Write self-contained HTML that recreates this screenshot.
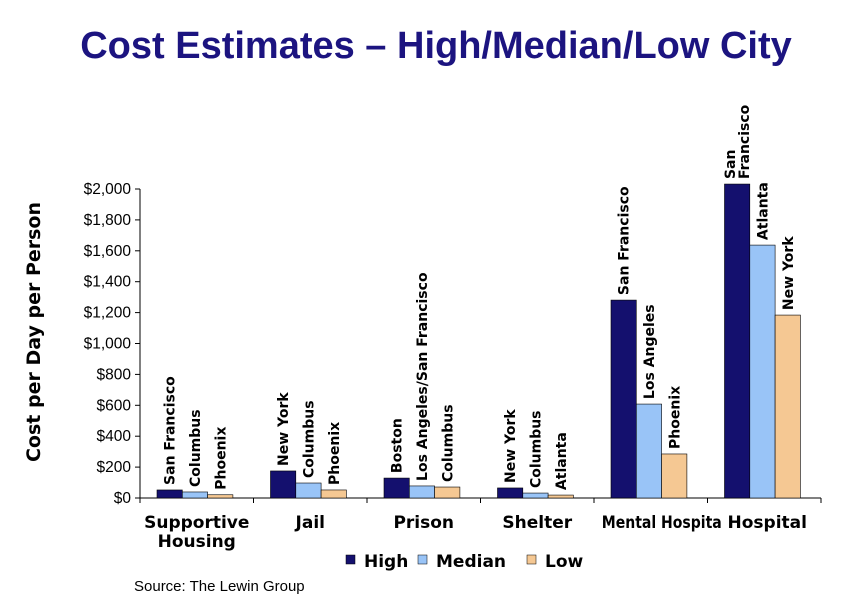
<!DOCTYPE html>
<html><head><meta charset="utf-8"><style>
body{margin:0;background:#fff;}
svg{display:block;font-family:"Liberation Sans",sans-serif;}
</style></head><body>
<svg width="866" height="606">
<text x="436" y="58" text-anchor="middle" font-size="38" font-weight="bold" fill="#1c1480">Cost Estimates – High/Median/Low City</text>
<text transform="translate(40,332) rotate(-90)" text-anchor="middle" font-size="19" font-weight="bold" font-family="'DejaVu Sans',sans-serif">Cost per Day per Person</text>
<g id="plot"></g>
<g>
<rect x="346" y="555" width="9" height="9" fill="#14106e" stroke="#000" stroke-width="0.5"/>
<text x="364" y="567" font-size="17" font-weight="bold" font-family="'DejaVu Sans',sans-serif">High</text>
<text x="436" y="567" font-size="17" font-weight="bold" font-family="'DejaVu Sans',sans-serif">Median</text>
<rect x="418" y="555" width="9" height="9" fill="#99c4f7" stroke="#000" stroke-width="0.5"/>
<rect x="527" y="555" width="9" height="9" fill="#f5c893" stroke="#000" stroke-width="0.5"/>
<text x="545" y="567" font-size="17" font-weight="bold" font-family="'DejaVu Sans',sans-serif">Low</text>
</g>
<text x="134" y="591" font-size="15">Source: The Lewin Group</text>
</svg>
<script>
const categories=["Supportive Housing","Jail","Prison","Shelter","Mental Hospital","Hospital"];
const highValues=[52,175,129,65,1281,2032];
const medianValues=[39,97,78,32,608,1637];
const lowValues=[21,52,71,19,285,1184];
const highCities=["San Francisco","New York","Boston","New York","San Francisco","San|Francisco"];
const medianCities=["Columbus","Columbus","Los Angeles/San Francisco","Columbus","Los Angeles","Atlanta"];
const lowCities=["Phoenix","Phoenix","Columbus","Atlanta","Phoenix","New York"];
const yTicks=[0,200,400,600,800,1000,1200,1400,1600,1800,2000];
const catLabels=[["Supportive","Housing"],["Jail"],["Prison"],["Shelter"],["Mental Hospita"],["Hospital"]];
const catShift=[0,0,0,0,11,3];

const NS="http://www.w3.org/2000/svg";
const g=document.getElementById('plot');
const x0=140,x1=821,y0=498,yTop=189;
const gw=(x1-x0)/categories.length;
function yScale(v){return y0-(v/2000)*(y0-yTop);}
function xBand(i){return x0+i*gw;}
function mk(tag,attrs){const e=document.createElementNS(NS,tag);for(const k in attrs)e.setAttribute(k,attrs[k]);g.appendChild(e);return e;}
let ax=mk('line',{x1:x0,y1:yTop,x2:x0,y2:y0,stroke:'#000','stroke-width':1});


let bx=mk('line',{x1:x0,y1:y0,x2:x1,y2:y0,stroke:'#000','stroke-width':1});


yTicks.forEach(t=>{
  const y=yScale(t);
  mk('line',{x1:x0-5,y1:y,x2:x0,y2:y,stroke:'#000'});
  const tx=mk('text',{x:x0-9,y:y+5,'text-anchor':'end','font-size':15.5});
  tx.textContent='$'+t.toLocaleString('en-US');
  
  
});
for(let i=0;i<=categories.length;i++){mk('line',{x1:xBand(i),y1:y0,x2:xBand(i),y2:y0+5,stroke:'#000'});}
const series=[[highValues,highCities,'#14106e','high'],[medianValues,medianCities,'#99c4f7','median'],[lowValues,lowCities,'#f5c893','low']];
const bw=25.3,off=17;
categories.forEach((c,i)=>{
  series.forEach((s,j)=>{
    const v=s[0][i];const bxp=xBand(i)+off+j*bw;const y=yScale(v);
    const r=mk('rect',{x:bxp,y:y,width:bw,height:y0-y,fill:s[2],stroke:'#000','stroke-width':0.6});
    
    
    const lines=s[1][i].split('|');
    const cx=bxp+bw/2;
    const t=mk('text',{transform:`translate(${cx+5-(lines.length-1)*7},${y-5}) rotate(-90)`,'font-size':14,'font-weight':'bold','font-family':"'DejaVu Sans',sans-serif"});
    lines.forEach((l,k)=>{const ts=document.createElementNS(NS,'tspan');ts.setAttribute('x',0);ts.setAttribute('dy',k?14:0);ts.textContent=l;t.appendChild(ts);});
    
    
  });
  const cx=xBand(i)+gw/2+catShift[i];
  catLabels[i].forEach((l,k)=>{
    const a={x:cx,y:528+k*19,'text-anchor':'middle','font-size':17,'font-weight':'bold','font-family':"'DejaVu Sans',sans-serif"};
    if(i===4){a.textLength=120;a.lengthAdjust='spacingAndGlyphs';}
    const t=mk('text',a);
    t.textContent=l;
    
    
  });
});
</script>
</body></html>
